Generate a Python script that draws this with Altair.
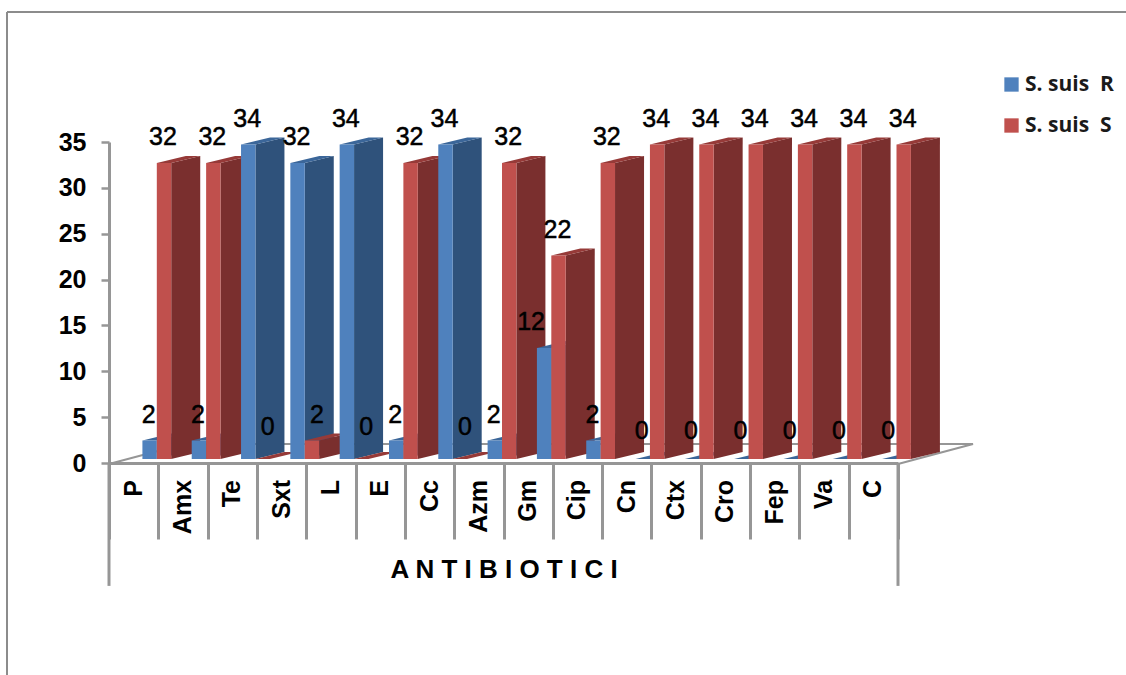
import altair as alt
import pandas as pd

# Isolates tested per antibiotic, resistant and susceptible counts
categories = ["P", "Amx", "Te", "Sxt", "L", "E", "Cc", "Azm", "Gm", "Cip",
              "Cn", "Ctx", "Cro", "Fep", "Va", "C"]
resistant = [2, 2, 34, 32, 34, 2, 34, 2, 12, 2, 0, 0, 0, 0, 0, 0]
susceptible = [32, 32, 0, 2, 0, 32, 0, 32, 22, 32, 34, 34, 34, 34, 34, 34]

SERIES_R = "S. suis\u00a0 R"
SERIES_S = "S. suis\u00a0 S"
SIDE_R, SIDE_S, TOP_R, TOP_S = "side R", "side S", "top R", "top S"

# Oblique projection of the columns, expressed in scale units
UX = 49.3   # pixels per category
UY = 9.25   # pixels per count
BAR_W = 14.4 / UX
OFFSET_R = 33.4 / UX
OFFSET_S = 47.8 / UX
DX = 29 / UX
DY = 7 / UY

rows = []


def add_face(key, face, points):
    for x, low, high in points:
        rows.append({"key": key, "face": face, "px": x, "low": low, "high": high})


def add_column(key, left, value, front, side, top):
    right = left + BAR_W
    add_face(key + "s", side, [(right, 0, value), (right + DX, DY, value + DY)])
    add_face(key + "t", top, [
        (left, value, value),
        (right, value, value + DY * BAR_W / DX),
        (left + DX, value + DY * (DX - BAR_W) / DX, value + DY),
        (right + DX, value + DY, value + DY),
    ])
    add_face(key + "f", front, [(left, 0, value), (right, 0, value)])


for i, (r, s) in enumerate(zip(resistant, susceptible)):
    add_column(f"c{i:02d}a", i + OFFSET_R, r, SERIES_R, SIDE_R, TOP_R)
    add_column(f"c{i:02d}b", i + OFFSET_S, s, SERIES_S, SIDE_S, TOP_S)

faces = pd.DataFrame(rows)

# Value labels sit above the front of each column
labels = []
for i, (r, s) in enumerate(zip(resistant, susceptible)):
    lift_r = 28 / UY if r == 0 else 26 / UY
    lift_s = 32 / UY if s == 0 else 26 / UY
    nudge_r = -12 / UX if categories[i] == "Gm" else 0
    nudge_s = 5 / UX if s <= 2 else -1 / UX
    labels.append({"px": i + OFFSET_R + BAR_W / 2 + nudge_r - 1 / UX, "low": r + lift_r, "t": str(r)})
    labels.append({"px": i + OFFSET_S + BAR_W / 2 + nudge_s, "low": s + lift_s, "t": str(s)})
labels = pd.DataFrame(labels)

cats = pd.DataFrame({"px": [i + 0.5 for i in range(len(categories))], "t": categories, "low": -1.85})

GREY = "#969696"
n = len(categories)
floor_depth = 75 / UX
floor_lift = 2.17
floor_base = -0.54
floor = pd.DataFrame({
    "px": [0, floor_depth, n + floor_depth, n],
    "low": [floor_base, floor_base + floor_lift, floor_base + floor_lift, floor_base],
    "step": [0, 1, 2, 3],
})
long_ticks = pd.DataFrame({"px": [0, n], "low": [0, 0], "high": [-13.4, -13.4]})

x_scale = alt.Scale(domain=[0, n], nice=False, zero=False)
x_axis = alt.Axis(
    values=list(range(n + 1)), labels=False, grid=False,
    tickSize=76, tickWidth=3, tickColor=GREY,
    domainWidth=3, domainColor=GREY,
    title="A N T I B I O T I C I",
    titleFont="Liberation Sans", titleFontSize=26, titleFontWeight="bold",
    titleColor="#000000", titleY=93, titlePadding=0)
x_enc = alt.X("px:Q", scale=x_scale, axis=x_axis)
axis_y_scale = alt.Scale(domain=[0, 35], range=[321, 0], nice=False, zero=False)
col_y_scale = alt.Scale(domain=[0, 35], range=[317, 317 - 35 * UY], nice=False, zero=False)

color_scale = alt.Scale(
    domain=[SERIES_R, SERIES_S, SIDE_R, SIDE_S, TOP_R, TOP_S],
    range=["#4F81BD", "#C0504D", "#2F527B", "#7A2F2E", "#3B6699", "#963A38"],
)

frame_top = alt.Chart(pd.DataFrame({"a": [0]})).mark_rule(color="#8c8c8c", strokeWidth=2).encode(
    x=alt.value(-102), x2=alt.value(1017), y=alt.value(-130))
frame_left = alt.Chart(pd.DataFrame({"a": [0]})).mark_rule(color="#8c8c8c", strokeWidth=2).encode(
    x=alt.value(-102), y=alt.value(-130), y2=alt.value(533))

axes_layer = alt.Chart(long_ticks).mark_rule(color=GREY, strokeWidth=3).encode(
    x=x_enc,
    y=alt.Y("low:Q", scale=axis_y_scale, axis=alt.Axis(
        values=list(range(0, 36, 5)), grid=False, title=None,
        tickSize=8, tickWidth=2.5, tickColor=GREY,
        domainWidth=3, domainColor=GREY,
        labelFont="Liberation Sans", labelFontSize=25, labelFontWeight="bold",
        labelColor="#000000", labelPadding=15)),
    y2="high:Q",
)

floor_layer = alt.Chart(floor).mark_line(color=GREY, strokeWidth=2).encode(
    x=x_enc,
    y=alt.Y("low:Q", scale=col_y_scale, axis=None),
    order="step:Q",
)

# One area per face, painted left to right so nearer columns overlap earlier ones
faces_layer = alt.Chart(faces).mark_area().encode(
    x=x_enc,
    y=alt.Y("low:Q", scale=col_y_scale, axis=None),
    y2="high:Q",
    color=alt.Color("face:N", scale=color_scale, legend=alt.Legend(
        values=[SERIES_R, SERIES_S], title=None, orient="none",
        legendX=892, legendY=-68, symbolType="square", symbolSize=205,
        symbolStrokeWidth=0, rowPadding=19, labelOffset=3,
        labelFont="Open Sans", labelFontSize=21, labelFontWeight="bold",
        labelColor="#1a1a1a")),
    detail="key:N",
)

value_layer = alt.Chart(labels).mark_text(
    font="Liberation Sans", fontSize=25, color="#000000", stroke="#000000", strokeWidth=0.5,
    baseline="middle", align="center"
).encode(
    x=x_enc,
    y=alt.Y("low:Q", scale=col_y_scale, axis=None),
    text="t:N",
)

cat_layer = alt.Chart(cats).mark_text(
    font="Liberation Sans", fontSize=25, fontWeight="bold", color="#000000", angle=270,
    align="right", baseline="middle"
).encode(
    x=x_enc,
    y=alt.Y("low:Q", scale=axis_y_scale, axis=None),
    text="t:N",
)

chart = alt.layer(
    frame_top, frame_left, axes_layer, floor_layer, faces_layer, value_layer, cat_layer
).resolve_scale(y="independent").properties(
    width=789, height=321,
    padding={"left": 109, "top": 142, "right": 228, "bottom": 212},
    autosize=alt.AutoSizeParams(type="none"),
    background="#ffffff",
).configure_view(stroke=None)

chart.save("out.html", embed_options={"renderer": "svg", "actions": False})
